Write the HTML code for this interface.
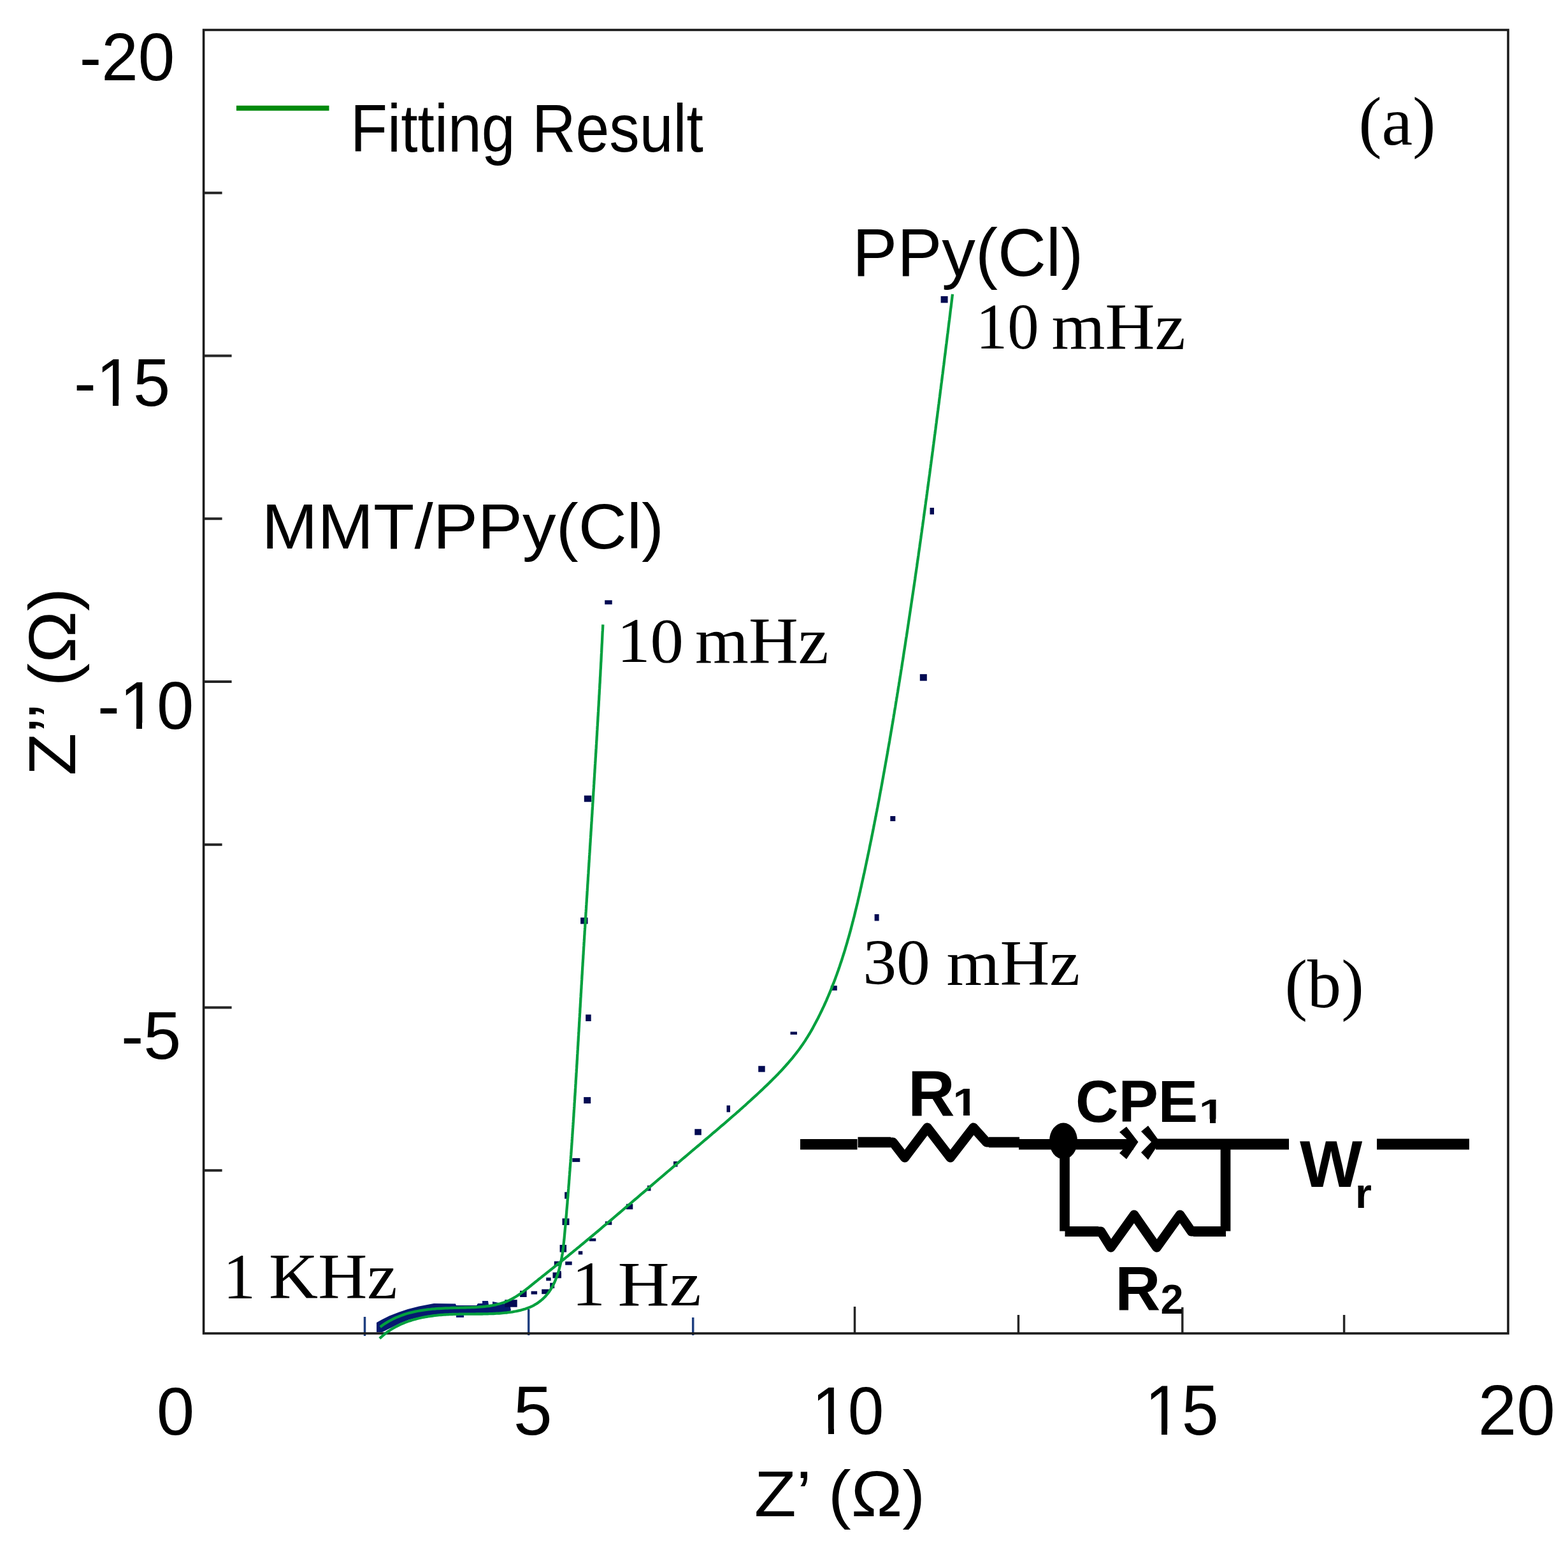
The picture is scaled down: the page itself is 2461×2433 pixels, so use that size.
<!DOCTYPE html><html><head><meta charset="utf-8"><title>Nyquist plot</title>
<style>html,body{margin:0;padding:0;background:#fff;}svg{display:block;}</style></head><body>
<svg xmlns="http://www.w3.org/2000/svg" width="2461" height="2433" viewBox="0 0 2461 2433">
<rect x="0" y="0" width="2461" height="2433" fill="#fff"/>
<line x1="319.6" y1="1837.2" x2="348.6" y2="1837.2" stroke="#262626" stroke-width="4"/>
<line x1="319.6" y1="1581.5" x2="363.6" y2="1581.5" stroke="#262626" stroke-width="4"/>
<line x1="319.6" y1="1325.8" x2="348.6" y2="1325.8" stroke="#262626" stroke-width="4"/>
<line x1="319.6" y1="1070.0" x2="363.6" y2="1070.0" stroke="#262626" stroke-width="4"/>
<line x1="319.6" y1="814.2" x2="348.6" y2="814.2" stroke="#262626" stroke-width="4"/>
<line x1="319.6" y1="558.5" x2="363.6" y2="558.5" stroke="#262626" stroke-width="4"/>
<line x1="319.6" y1="302.8" x2="348.6" y2="302.8" stroke="#262626" stroke-width="4"/>
<line x1="572.5" y1="2067" x2="572.5" y2="2097" stroke="#1f3f80" stroke-width="3.5"/>
<line x1="829.7" y1="2055" x2="829.7" y2="2096" stroke="#1f3f80" stroke-width="3.5"/>
<line x1="1087.7" y1="2068" x2="1087.7" y2="2096" stroke="#1f3f80" stroke-width="3.5"/>
<line x1="1341.5" y1="2051" x2="1341.5" y2="2093" stroke="#262626" stroke-width="3.5"/>
<line x1="1598.4" y1="2064" x2="1598.4" y2="2093" stroke="#262626" stroke-width="3.5"/>
<line x1="1855.8" y1="2052" x2="1855.8" y2="2093" stroke="#262626" stroke-width="3.5"/>
<line x1="2109.6" y1="2064" x2="2109.6" y2="2093" stroke="#262626" stroke-width="3.5"/>
<rect x="319.6" y="47.0" width="2047.4" height="2046.0" fill="none" stroke="#1c1c1c" stroke-width="3.6"/>
<text x="124.76" y="126.0" font-family="'Liberation Sans', Arial, sans-serif" font-size="105.52" font-weight="normal" text-anchor="start" textLength="149.48" lengthAdjust="spacingAndGlyphs" fill="#000">-20</text>
<text x="115.96" y="637.0" font-family="'Liberation Sans', Arial, sans-serif" font-size="106.16" font-weight="normal" text-anchor="start" textLength="151.27" lengthAdjust="spacingAndGlyphs" fill="#000">-15</text>
<text x="152.92" y="1144.0" font-family="'Liberation Sans', Arial, sans-serif" font-size="105.0" font-weight="normal" text-anchor="start" textLength="151.34" lengthAdjust="spacingAndGlyphs" fill="#000">-10</text>
<text x="189.89" y="1662.2" font-family="'Liberation Sans', Arial, sans-serif" font-size="106.3" font-weight="normal" text-anchor="start" textLength="94.44" lengthAdjust="spacingAndGlyphs" fill="#000">-5</text>
<text x="245.89" y="2251.6" font-family="'Liberation Sans', Arial, sans-serif" font-size="105.88" font-weight="normal" text-anchor="start" textLength="59.44" lengthAdjust="spacingAndGlyphs" fill="#000">0</text>
<text x="805.84" y="2251.6" font-family="'Liberation Sans', Arial, sans-serif" font-size="108.73" font-weight="normal" text-anchor="start" textLength="60.99" lengthAdjust="spacingAndGlyphs" fill="#000">5</text>
<text x="1274.2" y="2251.4" font-family="'Liberation Sans', Arial, sans-serif" font-size="106.24" font-weight="normal" text-anchor="start" textLength="113.13" lengthAdjust="spacingAndGlyphs" fill="#000">10</text>
<text x="1796.85" y="2252.4" font-family="'Liberation Sans', Arial, sans-serif" font-size="111.92" font-weight="normal" text-anchor="start" textLength="116.01" lengthAdjust="spacingAndGlyphs" fill="#000">15</text>
<text x="2319.66" y="2252.4" font-family="'Liberation Sans', Arial, sans-serif" font-size="110.62" font-weight="normal" text-anchor="start" textLength="121.37" lengthAdjust="spacingAndGlyphs" fill="#000">20</text>
<text x="1183.89" y="2379.5" font-family="'Liberation Sans', Arial, sans-serif" font-size="101.99" font-weight="normal" text-anchor="start" textLength="268.37" lengthAdjust="spacingAndGlyphs" fill="#000">Z&#8217; (&#937;)</text>
<text x="550.08" y="237.6" font-family="'Liberation Sans', Arial, sans-serif" font-size="105.89" font-weight="normal" text-anchor="start" textLength="553.93" lengthAdjust="spacingAndGlyphs" fill="#000">Fitting Result</text>
<text x="2132.17" y="226.5" font-family="'Liberation Serif', 'Times New Roman', serif" font-size="107.69" font-weight="normal" text-anchor="start" textLength="121.25" lengthAdjust="spacingAndGlyphs" fill="#000">(a)</text>
<text x="1338.04" y="433.0" font-family="'Liberation Sans', Arial, sans-serif" font-size="105.5" font-weight="normal" text-anchor="start" textLength="362.22" lengthAdjust="spacingAndGlyphs" fill="#000">PPy(Cl)</text>
<text x="410.79" y="861.0" font-family="'Liberation Sans', Arial, sans-serif" font-size="99.81" font-weight="normal" text-anchor="start" textLength="631.37" lengthAdjust="spacingAndGlyphs" fill="#000">MMT/PPy(Cl)</text>
<text x="2016.39" y="1581.4" font-family="'Liberation Serif', 'Times New Roman', serif" font-size="108.71" font-weight="normal" text-anchor="start" textLength="124.23" lengthAdjust="spacingAndGlyphs" fill="#000">(b)</text>
<text x="1424.93" y="1751.7" font-family="'Liberation Sans', Arial, sans-serif" font-size="101.98" font-weight="bold" text-anchor="start" fill="#000">R</text>
<text x="1495.6" y="1751.1" font-family="'Liberation Sans', Arial, sans-serif" font-size="61.6" font-weight="bold" text-anchor="start" textLength="39.6" lengthAdjust="spacingAndGlyphs" fill="#000">1</text>
<text x="1687.99" y="1761.0" font-family="'Liberation Sans', Arial, sans-serif" font-size="93.51" font-weight="bold" text-anchor="start" fill="#000">CPE</text>
<text x="1881.8" y="1762.5" font-family="'Liberation Sans', Arial, sans-serif" font-size="54.2" font-weight="bold" text-anchor="start" textLength="40.1" lengthAdjust="spacingAndGlyphs" fill="#000">1</text>
<text x="2040.0" y="1862.8" font-family="'Liberation Sans', Arial, sans-serif" font-size="104.08" font-weight="bold" text-anchor="start" fill="#000">W</text>
<text x="2127.1" y="1895.8" font-family="'Liberation Sans', Arial, sans-serif" font-size="66.52" font-weight="bold" text-anchor="start" fill="#000">r</text>
<text x="1750.24" y="2057.4" font-family="'Liberation Sans', Arial, sans-serif" font-size="98.49" font-weight="bold" text-anchor="start" fill="#000">R</text>
<text x="1821.47" y="2062.0" font-family="'Liberation Sans', Arial, sans-serif" font-size="64.74" font-weight="bold" text-anchor="start" fill="#000">2</text>
<text x="1531.86" y="546.8" font-family="'Liberation Serif', 'Times New Roman', serif" font-size="101.33" font-weight="normal" text-anchor="start" textLength="98.79" lengthAdjust="spacingAndGlyphs" fill="#000">10</text>
<text x="1650.56" y="547.8" font-family="'Liberation Serif', 'Times New Roman', serif" font-size="102.84" font-weight="normal" text-anchor="start" textLength="210.1" lengthAdjust="spacingAndGlyphs" fill="#000">mHz</text>
<text x="1354.25" y="1545.0" font-family="'Liberation Serif', 'Times New Roman', serif" font-size="100.83" font-weight="normal" text-anchor="start" textLength="105.73" lengthAdjust="spacingAndGlyphs" fill="#000">30</text>
<text x="1485.56" y="1546.0" font-family="'Liberation Serif', 'Times New Roman', serif" font-size="100.83" font-weight="normal" text-anchor="start" textLength="209.59" lengthAdjust="spacingAndGlyphs" fill="#000">mHz</text>
<text x="349.9" y="2037.8" font-family="'Liberation Serif', 'Times New Roman', serif" font-size="100.57" font-weight="normal" text-anchor="start" textLength="51.15" lengthAdjust="spacingAndGlyphs" fill="#000">1</text>
<text x="422.05" y="2037.8" font-family="'Liberation Serif', 'Times New Roman', serif" font-size="100.62" font-weight="normal" text-anchor="start" textLength="201.65" lengthAdjust="spacingAndGlyphs" fill="#000">KHz</text>
<text x="897.4" y="2048.6" font-family="'Liberation Serif', 'Times New Roman', serif" font-size="100.0" font-weight="normal" text-anchor="start" textLength="52.54" lengthAdjust="spacingAndGlyphs" fill="#000">1</text>
<text x="969.48" y="2048.6" font-family="'Liberation Serif', 'Times New Roman', serif" font-size="100.05" font-weight="normal" text-anchor="start" textLength="131.26" lengthAdjust="spacingAndGlyphs" fill="#000">Hz</text>
<text x="968.18" y="1039.4" font-family="'Liberation Serif', 'Times New Roman', serif" font-size="98.45" font-weight="normal" text-anchor="start" textLength="104.78" lengthAdjust="spacingAndGlyphs" fill="#000">10</text>
<text x="1091.06" y="1041.4" font-family="'Liberation Serif', 'Times New Roman', serif" font-size="102.99" font-weight="normal" text-anchor="start" textLength="209.57" lengthAdjust="spacingAndGlyphs" fill="#000">mHz</text>
<text x="0" y="0" transform="translate(118,1217.4) rotate(-90)" font-family="'Liberation Sans', Arial, sans-serif" font-size="104" textLength="294.6" lengthAdjust="spacingAndGlyphs" fill="#000">Z&#8217;&#8217; (&#937;)</text>
<rect x="157.5" y="627.5" width="19.5" height="10.5" fill="#fff"/>
<rect x="186.0" y="627.5" width="19.5" height="10.5" fill="#fff"/>
<rect x="194.5" y="1134.5" width="19.5" height="10.5" fill="#fff"/>
<rect x="223.0" y="1134.5" width="19.5" height="10.5" fill="#fff"/>
<rect x="1280.5" y="2241.5" width="19.5" height="10.5" fill="#fff"/>
<rect x="1309.0" y="2241.5" width="18.5" height="10.5" fill="#fff"/>
<rect x="1803.5" y="2242.5" width="19.5" height="10.5" fill="#fff"/>
<rect x="1832.0" y="2242.5" width="19.5" height="10.5" fill="#fff"/>
<rect x="1498.5" y="1743.5" width="13.5" height="8.5" fill="#fff"/>
<rect x="1522.0" y="1743.5" width="12.5" height="8.5" fill="#fff"/>
<rect x="1884.5" y="1756.5" width="14.5" height="7.5" fill="#fff"/>
<rect x="1908.0" y="1756.5" width="13.5" height="7.5" fill="#fff"/>
<line x1="371" y1="169.8" x2="516.5" y2="169.8" stroke="#008a0c" stroke-width="8"/>
<polygon points="591,2076 600,2071 611,2065.5 626.6,2059.5 640,2055 657.6,2050.5 681,2046 715,2046.5 716,2049 748,2049 750,2046 757,2046 757,2042 766,2042 767,2048 773,2048 773,2043 790,2046.5 800,2046 802,2057 797,2059.5 751,2062.5 728,2063 728,2068 716,2068 716,2063.5 685,2064 672,2065.5 655,2068.5 642,2071.5 628,2077 614,2084 600,2091 591,2091" fill="#061a70"/>
<rect x="1476.6" y="464.9" width="11.0" height="10.5" fill="#020a52"/>
<rect x="949.2" y="942.2" width="11.5" height="6.5" fill="#020a52"/>
<rect x="1459.5" y="797.0" width="6.5" height="10.5" fill="#020a52"/>
<rect x="1443.8" y="1058.2" width="11.0" height="10.5" fill="#020a52"/>
<rect x="1397.3" y="1281.0" width="8.0" height="8.0" fill="#020a52"/>
<rect x="1372.6" y="1435.0" width="7.0" height="10.5" fill="#020a52"/>
<rect x="1303.8" y="1547.2" width="10.0" height="7.5" fill="#020a52"/>
<rect x="1240.5" y="1619.5" width="10.5" height="4.5" fill="#020a52"/>
<rect x="1190.2" y="1673.2" width="10.5" height="9.5" fill="#020a52"/>
<rect x="1140.5" y="1735.2" width="5.5" height="10.5" fill="#020a52"/>
<rect x="1090.3" y="1772.2" width="10.5" height="9.5" fill="#020a52"/>
<rect x="916.8" y="1248.7" width="11.5" height="10.0" fill="#020a52"/>
<rect x="911.1" y="1440.3" width="11.5" height="10.0" fill="#020a52"/>
<rect x="919.2" y="1592.5" width="8.5" height="10.5" fill="#020a52"/>
<rect x="916.2" y="1722.1" width="11.0" height="10.0" fill="#020a52"/>
<rect x="898.3" y="1817.9" width="12.0" height="6.0" fill="#020a52"/>
<rect x="886.2" y="1871.2" width="6.5" height="10.5" fill="#020a52"/>
<rect x="882.5" y="1912.5" width="11.0" height="10.5" fill="#020a52"/>
<rect x="878.6" y="1954.0" width="10.5" height="11.5" fill="#020a52"/>
<rect x="907.8" y="1963.8" width="6.5" height="5.5" fill="#020a52"/>
<rect x="924.8" y="1943.8" width="10.5" height="4.5" fill="#020a52"/>
<rect x="949.8" y="1917.2" width="10.5" height="5.5" fill="#020a52"/>
<rect x="982.8" y="1889.8" width="10.5" height="8.5" fill="#020a52"/>
<rect x="1016.0" y="1860.8" width="5.5" height="8.5" fill="#020a52"/>
<rect x="1057.0" y="1823.0" width="6.5" height="8.5" fill="#020a52"/>
<rect x="887.2" y="1980.2" width="10.5" height="5.5" fill="#020a52"/>
<rect x="869.8" y="1979.8" width="9.5" height="7.5" fill="#020a52"/>
<rect x="875.2" y="1995.0" width="5.5" height="4" fill="#020a52"/>
<rect x="833.6" y="2026.7" width="9.5" height="5.0" fill="#020a52"/>
<rect x="850.2" y="2023.7" width="11.5" height="7.5" fill="#020a52"/>
<rect x="857.2" y="2005.4" width="7.5" height="5.0" fill="#020a52"/>
<rect x="863.2" y="2013.7" width="7.0" height="8.5" fill="#020a52"/>
<rect x="867.5" y="1997.3" width="13.5" height="9.0" fill="#020a52"/>
<rect x="816.1" y="2026.0" width="10.5" height="10.0" fill="#020a52"/>
<rect x="792.2" y="2040.2" width="19.5" height="11.5" fill="#020a52"/>
<path d="M596.7,2083.0 L599.6,2080.8 L602.4,2078.8 L605.4,2076.9 L608.3,2075.1 L611.3,2073.4 L614.3,2071.8 L617.3,2070.2 L620.4,2068.8 L623.5,2067.4 L626.6,2066.2 L629.7,2065.0 L632.8,2063.9 L636.0,2062.8 L639.2,2061.8 L642.4,2060.9 L645.7,2060.1 L648.9,2059.3 L652.2,2058.6 L655.5,2058.0 L658.8,2057.4 L662.1,2056.8 L665.4,2056.3 L668.8,2055.9 L672.1,2055.4 L675.5,2055.1 L678.9,2054.7 L682.2,2054.5 L685.6,2054.2 L689.1,2054.0 L692.5,2053.8 L695.9,2053.6 L699.3,2053.4 L702.7,2053.3 L706.2,2053.2 L709.6,2053.0 L713.0,2052.9 L716.5,2052.9 L719.9,2052.8 L723.4,2052.7 L726.8,2052.6 L730.2,2052.5 L733.7,2052.4 L737.1,2052.3 L740.5,2052.2 L743.9,2052.1 L747.3,2051.9 L750.7,2051.7 L754.1,2051.4 L757.5,2051.2 L760.8,2050.8 L764.1,2050.4 L767.4,2050.0 L770.7,2049.5 L774.0,2048.9 L777.2,2048.3 L780.4,2047.5 L783.6,2046.7 L786.7,2045.8 L789.9,2044.8 L792.9,2043.7 L796.0,2042.4 L799.0,2041.1 L802.0,2039.7 L804.9,2038.1 L807.8,2036.5 L810.6,2034.7 L813.5,2032.9 L816.3,2031.0 L819.1,2029.0 L821.8,2027.0 L824.5,2024.9 L827.3,2022.8 L830.0,2020.7 L832.7,2018.5 L835.3,2016.3 L838.0,2014.2 L840.7,2012.0 L843.4,2009.9 L846.0,2007.7 L848.7,2005.6 L851.3,2003.5 L854.0,2001.4 L856.7,1999.3 L859.3,1997.2 L861.9,1995.1 L864.6,1993.0 L867.2,1990.9 L869.9,1988.8 L872.5,1986.7 L875.1,1984.5 L877.8,1982.4 L880.4,1980.3 L883.0,1978.2 L885.7,1976.0 L888.3,1973.9 L890.9,1971.8 L893.5,1969.6 L896.1,1967.5 L898.8,1965.4 L901.4,1963.2 L904.0,1961.1 L906.6,1958.9 L909.2,1956.8 L911.8,1954.6 L914.4,1952.5 L917.0,1950.3 L919.6,1948.1 L922.2,1946.0 L924.8,1943.8 L927.4,1941.6 L930.0,1939.5 L932.6,1937.3 L935.2,1935.1 L937.8,1933.0 L940.4,1930.8 L943.0,1928.6 L945.5,1926.4 L948.1,1924.2 L950.7,1922.1 L953.3,1919.9 L955.9,1917.7 L958.5,1915.5 L961.0,1913.3 L963.6,1911.1 L966.2,1908.9 L968.8,1906.7 L971.4,1904.5 L973.9,1902.3 L976.5,1900.1 L979.1,1897.9 L981.7,1895.7 L984.2,1893.5 L986.8,1891.3 L989.4,1889.1 L992.0,1886.9 L994.5,1884.7 L997.1,1882.5 L999.7,1880.3 L1002.3,1878.1 L1004.8,1875.9 L1007.4,1873.7 L1010.0,1871.5 L1012.6,1869.3 L1015.1,1867.1 L1017.7,1864.9 L1020.3,1862.7 L1022.9,1860.5 L1025.4,1858.3 L1028.0,1856.1 L1030.6,1853.9 L1033.2,1851.7 L1035.7,1849.5 L1038.3,1847.3 L1040.9,1845.1 L1043.5,1842.9 L1046.1,1840.7 L1048.6,1838.5 L1051.2,1836.3 L1053.8,1834.1 L1056.4,1831.9 L1059.0,1829.7 L1061.5,1827.5 L1064.1,1825.3 L1066.7,1823.1 L1069.3,1820.9 L1071.9,1818.7 L1074.5,1816.5 L1077.1,1814.3 L1079.7,1812.1 L1082.3,1809.9 L1084.9,1807.7 L1087.4,1805.5 L1090.0,1803.4 L1092.6,1801.2 L1095.2,1799.0 L1097.8,1796.8 L1100.4,1794.6 L1103.0,1792.4 L1105.6,1790.2 L1108.2,1788.0 L1110.8,1785.8 L1113.4,1783.6 L1116.0,1781.4 L1118.5,1779.2 L1121.1,1777.0 L1123.7,1774.8 L1126.3,1772.6 L1128.9,1770.4 L1131.4,1768.2 L1134.0,1766.0 L1136.6,1763.8 L1139.2,1761.6 L1141.7,1759.4 L1144.3,1757.2 L1146.8,1754.9 L1149.4,1752.7 L1151.9,1750.5 L1154.5,1748.3 L1157.0,1746.0 L1159.6,1743.8 L1162.1,1741.5 L1164.6,1739.3 L1167.2,1737.0 L1169.7,1734.8 L1172.2,1732.5 L1174.7,1730.2 L1177.2,1728.0 L1179.7,1725.7 L1182.2,1723.4 L1184.7,1721.1 L1187.2,1718.8 L1189.7,1716.5 L1192.1,1714.2 L1194.6,1711.9 L1197.1,1709.6 L1199.5,1707.2 L1202.0,1704.9 L1204.4,1702.6 L1206.8,1700.2 L1209.2,1697.9 L1211.6,1695.5 L1214.0,1693.1 L1216.4,1690.7 L1218.8,1688.3 L1221.1,1685.9 L1223.4,1683.4 L1225.8,1681.0 L1228.1,1678.5 L1230.3,1676.0 L1232.6,1673.5 L1234.8,1671.0 L1237.1,1668.5 L1239.2,1665.9 L1241.4,1663.4 L1243.6,1660.8 L1245.7,1658.2 L1247.8,1655.5 L1249.9,1652.9 L1251.9,1650.2 L1254.0,1647.5 L1256.0,1644.8 L1257.9,1642.0 L1259.9,1639.2 L1261.8,1636.4 L1263.7,1633.6 L1265.5,1630.7 L1267.3,1627.8 L1269.1,1624.9 L1270.9,1622.0 L1272.6,1619.1 L1274.3,1616.1 L1276.0,1613.1 L1277.6,1610.1 L1279.2,1607.1 L1280.8,1604.1 L1282.4,1601.0 L1284.0,1598.0 L1285.5,1594.9 L1287.0,1591.9 L1288.5,1588.8 L1290.0,1585.7 L1291.4,1582.7 L1292.9,1579.6 L1294.3,1576.5 L1295.7,1573.4 L1297.1,1570.3 L1298.4,1567.2 L1299.8,1564.0 L1301.1,1560.9 L1302.4,1557.8 L1303.7,1554.7 L1305.0,1551.5 L1306.2,1548.4 L1307.4,1545.2 L1308.7,1542.1 L1309.9,1538.9 L1311.1,1535.7 L1312.2,1532.6 L1313.4,1529.4 L1314.5,1526.2 L1315.7,1523.0 L1316.8,1519.8 L1317.9,1516.6 L1318.9,1513.4 L1320.0,1510.2 L1321.1,1507.0 L1322.1,1503.8 L1323.1,1500.6 L1324.2,1497.3 L1325.2,1494.1 L1326.2,1490.9 L1327.1,1487.6 L1328.1,1484.4 L1329.1,1481.2 L1330.0,1477.9 L1330.9,1474.7 L1331.9,1471.4 L1332.8,1468.2 L1333.7,1464.9 L1334.6,1461.6 L1335.5,1458.4 L1336.3,1455.1 L1337.2,1451.8 L1338.0,1448.6 L1338.9,1445.3 L1339.7,1442.0 L1340.6,1438.7 L1341.4,1435.4 L1342.2,1432.1 L1343.0,1428.8 L1343.8,1425.6 L1344.6,1422.3 L1345.4,1419.0 L1346.2,1415.7 L1346.9,1412.4 L1347.7,1409.1 L1348.5,1405.8 L1349.2,1402.5 L1350.0,1399.2 L1350.7,1395.9 L1351.5,1392.5 L1352.2,1389.2 L1352.9,1385.9 L1353.7,1382.6 L1354.4,1379.3 L1355.1,1376.0 L1355.8,1372.7 L1356.6,1369.4 L1357.3,1366.1 L1358.0,1362.7 L1358.7,1359.4 L1359.4,1356.1 L1360.1,1352.8 L1360.8,1349.5 L1361.5,1346.2 L1362.2,1342.8 L1362.9,1339.5 L1363.6,1336.2 L1364.3,1332.9 L1364.9,1329.6 L1365.6,1326.2 L1366.3,1322.9 L1367.0,1319.6 L1367.7,1316.3 L1368.3,1313.0 L1369.0,1309.6 L1369.7,1306.3 L1370.3,1303.0 L1371.0,1299.7 L1371.6,1296.3 L1372.3,1293.0 L1372.9,1289.7 L1373.6,1286.4 L1374.2,1283.0 L1374.9,1279.7 L1375.5,1276.4 L1376.2,1273.1 L1376.8,1269.7 L1377.5,1266.4 L1378.1,1263.1 L1378.7,1259.7 L1379.4,1256.4 L1380.0,1253.1 L1380.6,1249.8 L1381.2,1246.4 L1381.8,1243.1 L1382.5,1239.8 L1383.1,1236.4 L1383.7,1233.1 L1384.3,1229.8 L1384.9,1226.4 L1385.5,1223.1 L1386.1,1219.8 L1386.7,1216.4 L1387.3,1213.1 L1387.9,1209.8 L1388.5,1206.4 L1389.1,1203.1 L1389.7,1199.7 L1390.3,1196.4 L1390.9,1193.1 L1391.5,1189.7 L1392.1,1186.4 L1392.7,1183.1 L1393.3,1179.7 L1393.8,1176.4 L1394.4,1173.0 L1395.0,1169.7 L1395.6,1166.4 L1396.2,1163.0 L1396.7,1159.7 L1397.3,1156.3 L1397.9,1153.0 L1398.4,1149.7 L1399.0,1146.3 L1399.6,1143.0 L1400.1,1139.6 L1400.7,1136.3 L1401.3,1133.0 L1401.8,1129.6 L1402.4,1126.3 L1402.9,1122.9 L1403.5,1119.6 L1404.0,1116.2 L1404.6,1112.9 L1405.2,1109.5 L1405.7,1106.2 L1406.2,1102.9 L1406.8,1099.5 L1407.3,1096.2 L1407.9,1092.8 L1408.4,1089.5 L1409.0,1086.1 L1409.5,1082.8 L1410.0,1079.4 L1410.6,1076.1 L1411.1,1072.7 L1411.7,1069.4 L1412.2,1066.1 L1412.7,1062.7 L1413.3,1059.4 L1413.8,1056.0 L1414.3,1052.7 L1414.9,1049.3 L1415.4,1046.0 L1415.9,1042.6 L1416.4,1039.3 L1417.0,1035.9 L1417.5,1032.6 L1418.0,1029.2 L1418.5,1025.9 L1419.0,1022.5 L1419.6,1019.2 L1420.1,1015.8 L1420.6,1012.5 L1421.1,1009.1 L1421.6,1005.8 L1422.1,1002.4 L1422.7,999.1 L1423.2,995.7 L1423.7,992.4 L1424.2,989.0 L1424.7,985.7 L1425.2,982.3 L1425.7,979.0 L1426.2,975.6 L1426.7,972.3 L1427.2,968.9 L1427.7,965.6 L1428.2,962.2 L1428.7,958.9 L1429.2,955.5 L1429.7,952.2 L1430.2,948.8 L1430.7,945.5 L1431.2,942.1 L1431.7,938.8 L1432.2,935.4 L1432.7,932.1 L1433.2,928.7 L1433.7,925.4 L1434.2,922.0 L1434.7,918.6 L1435.2,915.3 L1435.7,911.9 L1436.2,908.6 L1436.6,905.2 L1437.1,901.9 L1437.6,898.5 L1438.1,895.2 L1438.6,891.8 L1439.1,888.5 L1439.5,885.1 L1440.0,881.8 L1440.5,878.4 L1441.0,875.0 L1441.5,871.7 L1441.9,868.3 L1442.4,865.0 L1442.9,861.6 L1443.4,858.3 L1443.8,854.9 L1444.3,851.6 L1444.8,848.2 L1445.3,844.8 L1445.7,841.5 L1446.2,838.1 L1446.7,834.8 L1447.1,831.4 L1447.6,828.1 L1448.1,824.7 L1448.5,821.4 L1449.0,818.0 L1449.5,814.6 L1449.9,811.3 L1450.4,807.9 L1450.8,804.6 L1451.3,801.2 L1451.8,797.9 L1452.2,794.5 L1452.7,791.1 L1453.1,787.8 L1453.6,784.4 L1454.1,781.1 L1454.5,777.7 L1455.0,774.3 L1455.4,771.0 L1455.9,767.6 L1456.3,764.3 L1456.8,760.9 L1457.2,757.6 L1457.7,754.2 L1458.1,750.8 L1458.6,747.5 L1459.1,744.1 L1459.5,740.8 L1459.9,737.4 L1460.4,734.0 L1460.8,730.7 L1461.3,727.3 L1461.7,724.0 L1462.2,720.6 L1462.6,717.2 L1463.1,713.9 L1463.5,710.5 L1464.0,707.2 L1464.4,703.8 L1464.8,700.4 L1465.3,697.1 L1465.7,693.7 L1466.2,690.4 L1466.6,687.0 L1467.0,683.6 L1467.5,680.3 L1467.9,676.9 L1468.4,673.6 L1468.8,670.2 L1469.2,666.8 L1469.7,663.5 L1470.1,660.1 L1470.5,656.8 L1471.0,653.4 L1471.4,650.0 L1471.8,646.7 L1472.3,643.3 L1472.7,639.9 L1473.1,636.6 L1473.6,633.2 L1474.0,629.9 L1474.4,626.5 L1474.9,623.1 L1475.3,619.8 L1475.7,616.4 L1476.1,613.1 L1476.6,609.7 L1477.0,606.3 L1477.4,603.0 L1477.9,599.6 L1478.3,596.2 L1478.7,592.9 L1479.1,589.5 L1479.6,586.2 L1480.0,582.8 L1480.4,579.4 L1480.8,576.1 L1481.3,572.7 L1481.7,569.3 L1482.1,566.0 L1482.5,562.6 L1482.9,559.3 L1483.4,555.9 L1483.8,552.5 L1484.2,549.2 L1484.6,545.8 L1485.0,542.4 L1485.5,539.1 L1485.9,535.7 L1486.3,532.4 L1486.7,529.0 L1487.1,525.6 L1487.6,522.3 L1488.0,518.9 L1488.4,515.5 L1488.8,512.2 L1489.2,508.8 L1489.6,505.4 L1490.1,502.1 L1490.5,498.7 L1490.9,495.4 L1491.3,492.0 L1491.7,488.6 L1492.1,485.3 L1492.6,481.9 L1493.0,478.5 L1493.4,475.2 L1493.8,471.8 L1494.2,468.4 L1494.6,465.1 L1495.0,461.7" fill="none" stroke="#03a03e" stroke-width="4.3" stroke-linejoin="round" stroke-linecap="butt"/>
<path d="M595.9,2101.0 L597.6,2099.4 L599.3,2097.9 L601.0,2096.4 L602.8,2094.9 L604.5,2093.5 L606.3,2092.1 L608.1,2090.8 L609.9,2089.5 L611.8,2088.2 L613.7,2087.0 L615.5,2085.8 L617.5,2084.7 L619.4,2083.6 L621.3,2082.5 L623.3,2081.5 L625.3,2080.5 L627.3,2079.5 L629.3,2078.6 L631.3,2077.7 L633.3,2076.9 L635.4,2076.1 L637.5,2075.3 L639.5,2074.5 L641.6,2073.8 L643.8,2073.1 L645.9,2072.4 L648.0,2071.8 L650.1,2071.1 L652.3,2070.6 L654.5,2070.0 L656.6,2069.5 L658.8,2069.0 L661.0,2068.5 L663.2,2068.0 L665.4,2067.6 L667.6,2067.2 L669.8,2066.8 L672.0,2066.4 L674.3,2066.1 L676.5,2065.8 L678.7,2065.5 L681.0,2065.2 L683.2,2064.9 L685.5,2064.7 L687.7,2064.4 L690.0,2064.2 L692.2,2064.0 L694.4,2063.9 L696.7,2063.7 L698.9,2063.5 L701.2,2063.4 L703.4,2063.3 L705.7,2063.2 L707.9,2063.1 L710.1,2063.0 L712.4,2062.9 L714.6,2062.9 L716.8,2062.8 L719.1,2062.8 L721.3,2062.7 L723.5,2062.7 L725.7,2062.7 L728.0,2062.6 L730.2,2062.6 L732.4,2062.6 L734.6,2062.6 L736.8,2062.6 L739.0,2062.6 L741.3,2062.6 L743.5,2062.6 L745.7,2062.6 L747.9,2062.5 L750.1,2062.5 L752.4,2062.5 L754.6,2062.5 L756.8,2062.5 L759.0,2062.4 L761.2,2062.4 L763.5,2062.3 L765.7,2062.3 L767.9,2062.2 L770.2,2062.1 L772.4,2062.1 L774.6,2062.0 L776.9,2061.9 L779.1,2061.7 L781.4,2061.6 L783.6,2061.5 L785.9,2061.3 L788.1,2061.1 L790.4,2060.9 L792.6,2060.7 L794.9,2060.5 L797.2,2060.2 L799.4,2059.9 L801.7,2059.6 L804.0,2059.3 L806.2,2058.9 L808.5,2058.5 L810.7,2058.1 L812.9,2057.6 L815.1,2057.1 L817.3,2056.6 L819.5,2056.0 L821.6,2055.4 L823.8,2054.8 L825.9,2054.1 L828.0,2053.3 L830.1,2052.5 L832.1,2051.7 L834.1,2050.8 L836.1,2049.8 L838.0,2048.8 L839.9,2047.7 L841.8,2046.6 L843.7,2045.4 L845.5,2044.1 L847.2,2042.8 L848.9,2041.5 L850.6,2040.0 L852.3,2038.6 L853.9,2037.0 L855.4,2035.5 L856.9,2033.8 L858.3,2032.2 L859.7,2030.5 L861.1,2028.7 L862.4,2026.9 L863.6,2025.0 L864.8,2023.2 L866.0,2021.2 L867.1,2019.3 L868.1,2017.3 L869.1,2015.3 L870.1,2013.3 L871.0,2011.2 L871.9,2009.1 L872.7,2007.0 L873.5,2004.9 L874.3,2002.8 L875.1,2000.7 L875.8,1998.5 L876.4,1996.4 L877.1,1994.2 L877.7,1992.1 L878.2,1989.9 L878.8,1987.7 L879.3,1985.6 L879.8,1983.4 L880.3,1981.2 L880.7,1979.0 L881.2,1976.8 L881.6,1974.7 L881.9,1972.5 L882.3,1970.3 L882.7,1968.1 L883.0,1965.9 L883.3,1963.6 L883.6,1961.4 L883.9,1959.2 L884.2,1957.0 L884.4,1954.8 L884.7,1952.6 L884.9,1950.3 L885.1,1948.1 L885.4,1945.9 L885.6,1943.7 L885.8,1941.4 L886.0,1939.2 L886.2,1937.0 L886.4,1934.8 L886.6,1932.5 L886.8,1930.3 L887.0,1928.1 L887.2,1925.9 L887.4,1923.6 L887.6,1921.4 L887.8,1919.2 L888.0,1916.9 L888.2,1914.7 L888.4,1912.5 L888.6,1910.3 L888.8,1908.0 L889.0,1905.8 L889.2,1903.6 L889.3,1901.4 L889.5,1899.1 L889.7,1896.9 L889.9,1894.7 L890.1,1892.4 L890.3,1890.2 L890.5,1888.0 L890.6,1885.8 L890.8,1883.5 L891.0,1881.3 L891.2,1879.1 L891.4,1876.8 L891.5,1874.6 L891.7,1872.4 L891.9,1870.2 L892.1,1867.9 L892.3,1865.7 L892.4,1863.5 L892.6,1861.2 L892.8,1859.0 L893.0,1856.8 L893.1,1854.6 L893.3,1852.3 L893.5,1850.1 L893.6,1847.9 L893.8,1845.6 L894.0,1843.4 L894.1,1841.2 L894.3,1839.0 L894.5,1836.7 L894.6,1834.5 L894.8,1832.3 L895.0,1830.0 L895.1,1827.8 L895.3,1825.6 L895.5,1823.4 L895.6,1821.1 L895.8,1818.9 L895.9,1816.7 L896.1,1814.4 L896.3,1812.2 L896.4,1810.0 L896.6,1807.8 L896.7,1805.5 L896.9,1803.3 L897.1,1801.1 L897.2,1798.8 L897.4,1796.6 L897.5,1794.4 L897.7,1792.2 L897.8,1789.9 L898.0,1787.7 L898.1,1785.5 L898.3,1783.2 L898.4,1781.0 L898.6,1778.8 L898.7,1776.6 L898.9,1774.3 L899.0,1772.1 L899.2,1769.9 L899.3,1767.6 L899.5,1765.4 L899.6,1763.2 L899.8,1760.9 L899.9,1758.7 L900.1,1756.5 L900.2,1754.3 L900.4,1752.0 L900.5,1749.8 L900.6,1747.6 L900.8,1745.3 L900.9,1743.1 L901.1,1740.9 L901.2,1738.7 L901.4,1736.4 L901.5,1734.2 L901.6,1732.0 L901.8,1729.7 L901.9,1727.5 L902.1,1725.3 L902.2,1723.0 L902.3,1720.8 L902.5,1718.6 L902.6,1716.4 L902.8,1714.1 L902.9,1711.9 L903.0,1709.7 L903.2,1707.4 L903.3,1705.2 L903.4,1703.0 L903.6,1700.7 L903.7,1698.5 L903.8,1696.3 L904.0,1694.1 L904.1,1691.8 L904.3,1689.6 L904.4,1687.4 L904.5,1685.1 L904.7,1682.9 L904.8,1680.7 L904.9,1678.4 L905.1,1676.2 L905.2,1674.0 L905.3,1671.8 L905.5,1669.5 L905.6,1667.3 L905.7,1665.1 L905.9,1662.8 L906.0,1660.6 L906.1,1658.4 L906.2,1656.1 L906.4,1653.9 L906.5,1651.7 L906.6,1649.5 L906.8,1647.2 L906.9,1645.0 L907.0,1642.8 L907.2,1640.5 L907.3,1638.3 L907.4,1636.1 L907.6,1633.8 L907.7,1631.6 L907.8,1629.4 L907.9,1627.2 L908.1,1624.9 L908.2,1622.7 L908.3,1620.5 L908.5,1618.2 L908.6,1616.0 L908.7,1613.8 L908.9,1611.5 L909.0,1609.3 L909.1,1607.1 L909.2,1604.9 L909.4,1602.6 L909.5,1600.4 L909.6,1598.2 L909.8,1595.9 L909.9,1593.7 L910.0,1591.5 L910.2,1589.2 L910.3,1587.0 L910.4,1584.8 L910.5,1582.6 L910.7,1580.3 L910.8,1578.1 L910.9,1575.9 L911.1,1573.6 L911.2,1571.4 L911.3,1569.2 L911.4,1566.9 L911.6,1564.7 L911.7,1562.5 L911.8,1560.2 L912.0,1558.0 L912.1,1555.8 L912.2,1553.6 L912.4,1551.3 L912.5,1549.1 L912.6,1546.9 L912.8,1544.6 L912.9,1542.4 L913.0,1540.2 L913.2,1537.9 L913.3,1535.7 L913.4,1533.5 L913.5,1531.3 L913.7,1529.0 L913.8,1526.8 L913.9,1524.6 L914.1,1522.3 L914.2,1520.1 L914.3,1517.9 L914.5,1515.6 L914.6,1513.4 L914.7,1511.2 L914.9,1509.0 L915.0,1506.7 L915.2,1504.5 L915.3,1502.3 L915.4,1500.0 L915.6,1497.8 L915.7,1495.6 L915.8,1493.3 L916.0,1491.1 L916.1,1488.9 L916.2,1486.6 L916.4,1484.4 L916.5,1482.2 L916.6,1480.0 L916.8,1477.7 L916.9,1475.5 L917.1,1473.3 L917.2,1471.0 L917.3,1468.8 L917.5,1466.6 L917.6,1464.3 L917.7,1462.1 L917.9,1459.9 L918.0,1457.7 L918.2,1455.4 L918.3,1453.2 L918.4,1451.0 L918.6,1448.7 L918.7,1446.5 L918.8,1444.3 L919.0,1442.0 L919.1,1439.8 L919.3,1437.6 L919.4,1435.4 L919.5,1433.1 L919.7,1430.9 L919.8,1428.7 L920.0,1426.4 L920.1,1424.2 L920.2,1422.0 L920.4,1419.7 L920.5,1417.5 L920.7,1415.3 L920.8,1413.1 L920.9,1410.8 L921.1,1408.6 L921.2,1406.4 L921.4,1404.1 L921.5,1401.9 L921.6,1399.7 L921.8,1397.4 L921.9,1395.2 L922.1,1393.0 L922.2,1390.7 L922.3,1388.5 L922.5,1386.3 L922.6,1384.1 L922.8,1381.8 L922.9,1379.6 L923.0,1377.4 L923.2,1375.1 L923.3,1372.9 L923.5,1370.7 L923.6,1368.4 L923.7,1366.2 L923.9,1364.0 L924.0,1361.8 L924.2,1359.5 L924.3,1357.3 L924.4,1355.1 L924.6,1352.8 L924.7,1350.6 L924.9,1348.4 L925.0,1346.1 L925.1,1343.9 L925.3,1341.7 L925.4,1339.5 L925.6,1337.2 L925.7,1335.0 L925.9,1332.8 L926.0,1330.5 L926.1,1328.3 L926.3,1326.1 L926.4,1323.8 L926.6,1321.6 L926.7,1319.4 L926.8,1317.2 L927.0,1314.9 L927.1,1312.7 L927.3,1310.5 L927.4,1308.2 L927.5,1306.0 L927.7,1303.8 L927.8,1301.5 L928.0,1299.3 L928.1,1297.1 L928.2,1294.8 L928.4,1292.6 L928.5,1290.4 L928.7,1288.2 L928.8,1285.9 L928.9,1283.7 L929.1,1281.5 L929.2,1279.2 L929.4,1277.0 L929.5,1274.8 L929.6,1272.5 L929.8,1270.3 L929.9,1268.1 L930.1,1265.9 L930.2,1263.6 L930.3,1261.4 L930.5,1259.2 L930.6,1256.9 L930.8,1254.7 L930.9,1252.5 L931.0,1250.2 L931.2,1248.0 L931.3,1245.8 L931.4,1243.6 L931.6,1241.3 L931.7,1239.1 L931.9,1236.9 L932.0,1234.6 L932.1,1232.4 L932.3,1230.2 L932.4,1227.9 L932.5,1225.7 L932.7,1223.5 L932.8,1221.2 L933.0,1219.0 L933.1,1216.8 L933.2,1214.6 L933.4,1212.3 L933.5,1210.1 L933.6,1207.9 L933.8,1205.6 L933.9,1203.4 L934.0,1201.2 L934.2,1198.9 L934.3,1196.7 L934.5,1194.5 L934.6,1192.3 L934.7,1190.0 L934.9,1187.8 L935.0,1185.6 L935.1,1183.3 L935.3,1181.1 L935.4,1178.9 L935.5,1176.6 L935.7,1174.4 L935.8,1172.2 L935.9,1169.9 L936.1,1167.7 L936.2,1165.5 L936.3,1163.3 L936.5,1161.0 L936.6,1158.8 L936.7,1156.6 L936.9,1154.3 L937.0,1152.1 L937.1,1149.9 L937.2,1147.6 L937.4,1145.4 L937.5,1143.2 L937.6,1140.9 L937.8,1138.7 L937.9,1136.5 L938.0,1134.3 L938.2,1132.0 L938.3,1129.8 L938.4,1127.6 L938.5,1125.3 L938.7,1123.1 L938.8,1120.9 L938.9,1118.6 L939.1,1116.4 L939.2,1114.2 L939.3,1111.9 L939.4,1109.7 L939.6,1107.5 L939.7,1105.3 L939.8,1103.0 L939.9,1100.8 L940.1,1098.6 L940.2,1096.3 L940.3,1094.1 L940.4,1091.9 L940.6,1089.6 L940.7,1087.4 L940.8,1085.2 L940.9,1082.9 L941.1,1080.7 L941.2,1078.5 L941.3,1076.3 L941.4,1074.0 L941.6,1071.8 L941.7,1069.6 L941.8,1067.3 L941.9,1065.1 L942.0,1062.9 L942.2,1060.6 L942.3,1058.4 L942.4,1056.2 L942.5,1053.9 L942.6,1051.7 L942.8,1049.5 L942.9,1047.3 L943.0,1045.0 L943.1,1042.8 L943.2,1040.6 L943.4,1038.3 L943.5,1036.1 L943.6,1033.9 L943.7,1031.6 L943.8,1029.4 L943.9,1027.2 L944.1,1024.9 L944.2,1022.7 L944.3,1020.5 L944.4,1018.2 L944.5,1016.0 L944.6,1013.8 L944.7,1011.6 L944.9,1009.3 L945.0,1007.1 L945.1,1004.9 L945.2,1002.6 L945.3,1000.4 L945.4,998.2 L945.5,995.9 L945.6,993.7 L945.7,991.5 L945.9,989.2 L946.0,987.0 L946.1,984.8 L946.2,982.6 L946.3,980.3" fill="none" stroke="#03a03e" stroke-width="4.3" stroke-linejoin="round" stroke-linecap="butt"/>
<polyline points="1256,1796.2 1345.5,1796.2" fill="none" stroke="#000" stroke-width="16.6" stroke-linejoin="miter" stroke-linecap="butt" stroke-miterlimit="10"/>
<polyline points="1346.5,1793 1398,1793" fill="none" stroke="#000" stroke-width="16.6" stroke-linejoin="miter" stroke-linecap="butt" stroke-miterlimit="10"/>
<polyline points="1552,1793 1600,1793" fill="none" stroke="#000" stroke-width="16.6" stroke-linejoin="miter" stroke-linecap="butt" stroke-miterlimit="10"/>
<polyline points="1380,1793 1401.5,1793 1420,1817 1455.5,1770 1491.6,1817 1527.8,1770 1548.5,1793 1570,1793" fill="none" stroke="#000" stroke-width="15" stroke-linejoin="round" stroke-linecap="butt" stroke-miterlimit="10"/>
<polyline points="1599,1796.2 1669,1796.2" fill="none" stroke="#000" stroke-width="16.6" stroke-linejoin="miter" stroke-linecap="butt" stroke-miterlimit="10"/>
<ellipse cx="1669" cy="1791" rx="22" ry="28.5" fill="#000"/>
<polyline points="1669,1796.2 1779,1796.2" fill="none" stroke="#000" stroke-width="16.6" stroke-linejoin="miter" stroke-linecap="butt" stroke-miterlimit="10"/>
<polygon points="1757,1777 1768,1768.5 1786.5,1792.5 1768,1819.5 1757,1810 1773,1792.5" fill="#000"/>
<polygon points="1791,1776 1802,1767 1820.5,1792.5 1802,1820.5 1791,1809 1807,1792.5" fill="#000"/>
<polyline points="1814,1796 2023,1796" fill="none" stroke="#000" stroke-width="16.8" stroke-linejoin="miter" stroke-linecap="butt" stroke-miterlimit="10"/>
<polyline points="2161,1796 2306,1796" fill="none" stroke="#000" stroke-width="16.8" stroke-linejoin="miter" stroke-linecap="butt" stroke-miterlimit="10"/>
<polyline points="1671,1796 1671,1932.5" fill="none" stroke="#000" stroke-width="15.7" stroke-linejoin="miter" stroke-linecap="butt" stroke-miterlimit="10"/>
<polyline points="1923.5,1796 1923.5,1932.5" fill="none" stroke="#000" stroke-width="15.7" stroke-linejoin="miter" stroke-linecap="butt" stroke-miterlimit="10"/>
<polyline points="1671.5,1933 1724,1933" fill="none" stroke="#000" stroke-width="15.8" stroke-linejoin="miter" stroke-linecap="butt" stroke-miterlimit="10"/>
<polyline points="1873,1933 1924,1933" fill="none" stroke="#000" stroke-width="15.8" stroke-linejoin="miter" stroke-linecap="butt" stroke-miterlimit="10"/>
<polyline points="1700,1933 1727.8,1933 1743.5,1958 1780,1907 1815.5,1958 1852,1907 1870,1933 1900,1933" fill="none" stroke="#000" stroke-width="15" stroke-linejoin="round" stroke-linecap="butt" stroke-miterlimit="10"/>
</svg></body></html>
